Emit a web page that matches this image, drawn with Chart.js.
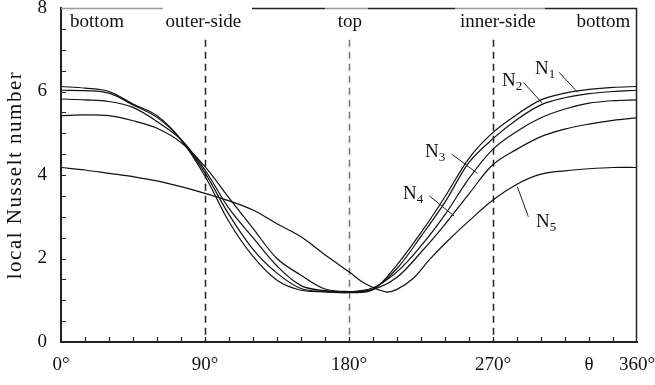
<!DOCTYPE html>
<html>
<head>
<meta charset="utf-8">
<script src="https://cdn.jsdelivr.net/npm/chart.js@4.4.1/dist/chart.umd.min.js"></script>
<style>html,body{margin:0;padding:0;background:#fff}</style>
</head>
<body>
<canvas id="nusselt" width="655" height="385"></canvas>
<script>
// angle around the tube (deg) and local Nusselt number for the five cases
const theta = [0,15,30,45,60,75,90,105,120,135,150,165,180,195,210,225,240,255,270,285,300,315,330,345,360];
const N1 = [6.12,6.08,6.00,5.70,5.42,4.85,3.97,2.88,2.05,1.48,1.24,1.20,1.18,1.25,1.85,2.62,3.48,4.40,5.02,5.45,5.80,5.96,6.05,6.10,6.12];
const N2 = [6.03,6.02,5.96,5.68,5.38,4.85,4.05,3.05,2.22,1.65,1.28,1.21,1.19,1.27,1.76,2.53,3.35,4.30,4.87,5.33,5.68,5.85,5.95,6.00,6.03];
const N3 = [5.82,5.80,5.76,5.62,5.28,4.85,4.12,3.20,2.50,1.82,1.35,1.23,1.20,1.30,1.68,2.30,3.05,3.92,4.62,5.05,5.37,5.58,5.72,5.78,5.80];
const N4 = [5.42,5.44,5.42,5.30,5.12,4.78,4.20,3.45,2.72,2.00,1.60,1.27,1.21,1.26,1.55,2.15,2.82,3.55,4.25,4.62,4.92,5.10,5.22,5.31,5.37];
const theta5 = [0,15,30,45,60,75,90,105,120,135,150,165,180,190,203,210,220,230,240,255,270,285,300,315,330,345,360];
const N5 = [4.18,4.12,4.04,3.96,3.86,3.72,3.56,3.38,3.16,2.83,2.52,2.09,1.68,1.40,1.20,1.26,1.52,1.96,2.36,2.90,3.40,3.78,4.02,4.10,4.15,4.18,4.18];

const xTicks = [0,90,180,270,330,360];
const xLabels = {0:'0°',90:'90°',180:'180°',270:'270°',330:'θ',360:'360°'};
const regions = ['bottom','outer-side','top','inner-side','bottom'];
const regionAt = [22.5,89,180.6,273,339];
const dividers = [90,180,270];
const yTitle = 'local Nusselt number';

const serif = '"Liberation Serif", "Times New Roman", serif';
const ink = '#111';

// curve tags: where the "N" goes and the leader line to the curve (data units)
const tags = [
  {n:'1', at:[296.3,6.42], from:[311.3,6.46], to:[322.9,5.98]},
  {n:'2', at:[275.6,6.14], from:[289.0,6.22], to:[300.8,5.72]},
  {n:'3', at:[227.5,4.43], from:[244.2,4.50], to:[260.2,4.04]},
  {n:'4', at:[213.8,3.43], from:[230.2,3.50], to:[245.6,3.02]},
  {n:'5', at:[296.9,2.75], from:[292.1,3.00], to:[285.2,3.72]}
];

// top frame is patchy in the original
const topEdge = [[0,63.75,'#999'],[119.4,165,'#222'],[165,191.9,'#999'],[191.9,246.25,'#222'],[246.25,302.5,'#999'],[302.5,360,'#222']];

function pts(xs, ys) { return xs.map((t,i) => ({x:t, y:ys[i]})); }

const deco = {
  id: 'deco',
  beforeDatasetsDraw(chart) {
    const {ctx, scales:{x, y}} = chart;
    ctx.save();
    ctx.lineWidth = 1.5;
    ctx.setLineDash([7,5]);
    dividers.forEach(d => {
      ctx.strokeStyle = d === 180 ? '#777' : '#222';
      const px = Math.round(x.getPixelForValue(d)) + 0.5;
      ctx.beginPath();
      ctx.moveTo(px, y.getPixelForValue(7.24));
      ctx.lineTo(px, y.getPixelForValue(0));
      ctx.stroke();
    });
    ctx.restore();
  },
  afterDraw(chart) {
    const {ctx, chartArea:a, scales:{x, y}} = chart;
    ctx.save();
    ctx.lineWidth = 1.5;
    topEdge.forEach(([f, t, c]) => {
      ctx.strokeStyle = c;
      ctx.beginPath();
      ctx.moveTo(x.getPixelForValue(f), a.top + 0.5);
      ctx.lineTo(x.getPixelForValue(t), a.top + 0.5);
      ctx.stroke();
    });
    ctx.strokeStyle = '#222';
    ctx.beginPath();
    ctx.moveTo(a.right - 0.5, a.top);
    ctx.lineTo(a.right - 0.5, a.bottom);
    ctx.stroke();

    // inward ticks
    ctx.lineWidth = 1.2;
    ctx.beginPath();
    for (let v = 0.5; v < 8; v += 0.5) {
      const py = Math.round(y.getPixelForValue(v)) + 0.5;
      ctx.moveTo(a.left, py); ctx.lineTo(a.left + 5, py);
    }
    for (let t = 15; t < 360; t += 15) {
      const px = Math.round(x.getPixelForValue(t)) + 0.5;
      ctx.moveTo(px, a.bottom); ctx.lineTo(px, a.bottom - 5);
    }
    ctx.stroke();

    ctx.fillStyle = ink;
    ctx.font = '19px ' + serif;
    ctx.textAlign = 'center';
    ctx.textBaseline = 'middle';
    regions.forEach((r, i) => ctx.fillText(r, x.getPixelForValue(regionAt[i]), y.getPixelForValue(7.66)));

    // y title, spaced out a little like the original
    ctx.save();
    ctx.translate(15, (a.top + a.bottom) / 2);
    ctx.rotate(-Math.PI / 2);
    ctx.font = '21px ' + serif;
    ctx.letterSpacing = '1.5px';
    ctx.fillText(yTitle, 0, 0);
    ctx.restore();

    ctx.lineWidth = 1;
    ctx.textAlign = 'left';
    ctx.textBaseline = 'alphabetic';
    tags.forEach(g => {
      const px = x.getPixelForValue(g.at[0]), py = y.getPixelForValue(g.at[1]);
      ctx.font = '19px ' + serif;
      ctx.fillText('N', px, py);
      const w = ctx.measureText('N').width;
      ctx.font = '13px ' + serif;
      ctx.fillText(g.n, px + w, py + 4);
      ctx.beginPath();
      ctx.moveTo(x.getPixelForValue(g.from[0]), y.getPixelForValue(g.from[1]));
      ctx.lineTo(x.getPixelForValue(g.to[0]), y.getPixelForValue(g.to[1]));
      ctx.stroke();
    });
    ctx.restore();
  }
};

new Chart(document.getElementById('nusselt'), {
  type: 'line',
  data: {
    datasets: [
      {label:'N1', data: pts(theta, N1)},
      {label:'N2', data: pts(theta, N2)},
      {label:'N3', data: pts(theta, N3)},
      {label:'N4', data: pts(theta, N4)},
      {label:'N5', data: pts(theta5, N5)}
    ]
  },
  options: {
    responsive: false,
    animation: false,
    devicePixelRatio: 1,
    layout: {padding: {top: 8, right: 18, left: 0, bottom: 0}},
    plugins: {legend: {display: false}, tooltip: {enabled: false}},
    elements: {
      point: {radius: 0},
      line: {borderWidth: 1.2, borderColor: ink, fill: false, tension: 0.35}
    },
    scales: {
      x: {
        type: 'linear', min: 0, max: 360,
        afterBuildTicks(s) { s.ticks = xTicks.map(v => ({value: v})); },
        ticks: {autoSkip: false, maxRotation: 0, padding: 12, color: ink, font: {family: serif, size: 19},
                callback: v => xLabels[v]},
        grid: {display: false, drawTicks: false},
        border: {color: '#222', width: 2},
        afterFit(s) { s.height = 43; s.paddingLeft = 0; s.paddingRight = 0; }
      },
      y: {
        min: 0, max: 8,
        ticks: {stepSize: 2, padding: 14, color: ink, font: {family: serif, size: 19}},
        grid: {display: false, drawTicks: false},
        border: {color: '#222', width: 2},
        afterFit(s) { s.width = 61; s.paddingTop = 0; s.paddingBottom = 0; }
      }
    }
  },
  plugins: [deco]
});
</script>
</body>
</html>
